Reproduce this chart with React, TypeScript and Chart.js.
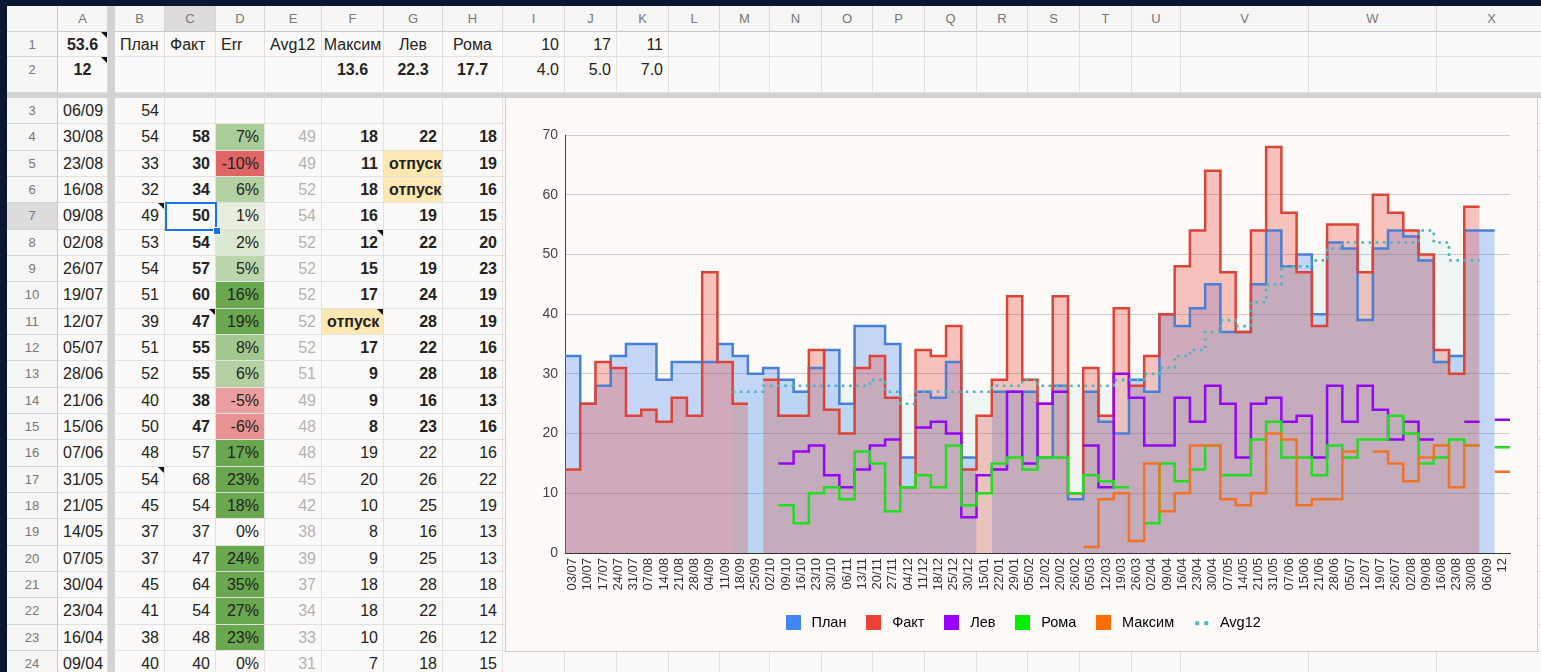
import React, { useEffect, useRef } from 'react';
import { Chart, registerables } from 'chart.js';

Chart.register(...registerables);

// ---------------- DATA ----------------
const CATEGORIES = ['03/07','10/07','17/07','24/07','31/07','07/08','14/08','21/08','28/08','04/09',
  '11/09','18/09','25/09','02/10','09/10','16/10','23/10','30/10','06/11','13/11',
  '20/11','27/11','04/12','11/12','18/12','25/12','30/12','15/01','22/01','29/01',
  '05/02','12/02','20/02','26/02','05/03','12/03','19/03','26/03','02/04','09/04',
  '16/04','23/04','30/04','07/05','14/05','21/05','31/05','07/06','15/06','21/06',
  '28/06','05/07','12/07','19/07','26/07','02/08','09/08','16/08','23/08','30/08',
  '06/09','12'];

const PLAN = [33,25,28,33,35,35,29,32,32,32, 35,33,30,31,29,27,31,34,25,38,
  38,35,16,27,26,32,16,null,27,27, 27,16,28,9,27,22,20,29,27,40,
  38,41,45,37,37,45,54,48,50,40, 52,51,39,51,54,53,49,32,33,54, 54,null];

const FACT = [14,25,32,31,23,24,22,26,23,47, 32,25,null,29,23,23,34,24,20,31,
  33,26,11,34,33,38,14,23,29,43, 29,25,43,10,31,23,41,28,33,40,
  48,54,64,47,37,54,68,57,47,38, 55,55,47,60,57,54,50,34,30,58, null,null];

const LEV = [null,null,null,null,null,null,null,null,null,null, null,null,null,null,15,17,18,13,11,14,
  18,19,null,21,22,20,6,13,14,27, 15,25,27,null,18,11,30,26,18,18,
  26,22,28,25,16,25,26,22,23,16, 28,22,28,24,19,22,19,null,null,22, null,22.3];

const ROMA = [null,null,null,null,null,null,null,null,null,null, null,null,null,null,8,5,10,11,9,17,
  15,7,11,13,11,18,8,10,15,16, 14,16,16,10,13,12,11,null,5,15,
  12,14,18,13,13,19,22,16,16,13, 18,16,19,19,23,20,15,16,19,18, null,17.7];

const MAKSIM = [null,null,null,null,null,null,null,null,null,null, null,null,null,null,null,null,null,null,null,null,
  null,null,null,null,null,null,null,null,null,null, null,null,null,null,1,9,10,2,15,7,
  10,18,18,9,8,10,20,19,8,9, 9,17,null,17,15,12,16,18,11,18, null,13.6];

const AVG12 = [null,null,null,null,null,null,null,null,null,null, null,27,27,28,28,28,28,28,28,28,
  29,27,25,27,27,27,27,27,28,28, 29,28,28,28,28,28,29,29,30,31,
  33,34,37,39,38,42,45,48,48,49, 51,52,52,52,52,52,54,52,49,49, null,null];

const Y_MIN = 0;
const Y_MAX = 70;
const Y_STEP = 10;

// spreadsheet-only values
const ERR = ['7%','-10%','6%','1%','2%','5%','16%','19%','8%','6%','-5%','-6%','17%','23%','18%','0%','24%','35%','27%','23%','0%'];
const ROW1 = ['53.6','План','Факт','Err','Avg12','Максим','Лев','Рома','10','17','11'];
const ROW2 = ['12','','','','','13.6','22.3','17.7','4.0','5.0','7.0'];

// ---------------- STYLE ----------------
const FONT = 'Arial, "Liberation Sans", sans-serif';
const NAVY = '#0b1631';
const SHEET_BG = '#fcfaf8';
const GRID = '#e3e1df';

const SERIES = [
  { label: 'План', data: PLAN, line: '#4a7fd6', legend: '#4285f4', fill: 'rgba(66,133,244,0.3)', order: 6 },
  { label: 'Факт', data: FACT, line: '#dc4437', legend: '#ea4335', fill: 'rgba(234,67,53,0.3)', order: 5 },
  { label: 'Лев', data: LEV, line: '#9406f4', legend: '#9900ff', fill: null, order: 4 },
  { label: 'Рома', data: ROMA, line: '#22dd22', legend: '#00ee00', fill: null, order: 3 },
  { label: 'Максим', data: MAKSIM, line: '#f07428', legend: '#ff6d01', fill: null, order: 2 },
  { label: 'Avg12', data: AVG12, line: '#4fb3bd', legend: '#46bdc6', fill: 'rgba(70,189,198,0.08)', order: 1, dotted: true },
];

function stepPoints(values: (number | null)[]) {
  const pts: { x: number; y: number | null }[] = [];
  values.forEach((v, i) => {
    if (v === null || v === undefined) {
      pts.push({ x: i, y: null });
    } else {
      pts.push({ x: i - 0.5, y: v }, { x: i + 0.5, y: v });
    }
  });
  return pts;
}

function legendIcon(color: string, dots: boolean) {
  const c = document.createElement('canvas');
  c.width = 15;
  c.height = 15;
  const g = c.getContext('2d')!;
  g.fillStyle = color;
  if (dots) {
    g.fillRect(1, 6, 4, 4);
    g.fillRect(10, 6, 4, 4);
  } else {
    g.fillRect(0, 0, 15, 15);
  }
  return c;
}

function StepChart() {
  const ref = useRef<HTMLCanvasElement>(null);
  useEffect(() => {
    const canvas = ref.current;
    if (!canvas) return;
    const icons = SERIES.map((s) => legendIcon(s.legend, !!s.dotted));
    const chart = new Chart(canvas, {
      type: 'line',
      data: {
        datasets: SERIES.map((s) => ({
          label: s.label,
          data: stepPoints(s.data),
          borderColor: s.line,
          backgroundColor: s.fill || 'transparent',
          fill: s.fill ? 'origin' : false,
          borderWidth: s.dotted ? 2.6 : 2.5,
          borderDash: s.dotted ? [2.6, 4.6] : [],
          pointRadius: 0,
          tension: 0,
          spanGaps: false,
          order: s.order,
        })),
      },
      options: {
        animation: false,
        responsive: false,
        events: [],
        layout: { padding: { left: 28, right: 28, top: 38, bottom: 12 } },
        plugins: {
          filler: { drawTime: 'beforeDatasetsDraw' },
          tooltip: { enabled: false },
          title: { display: false },
          legend: {
            position: 'bottom',
            labels: {
              usePointStyle: true,
              pointStyleWidth: 22,
              padding: 16.5,
              color: '#444',
              font: { size: 14.5, family: FONT },
              generateLabels: () =>
                SERIES.map((s, i) => ({
                  text: s.label,
                  pointStyle: icons[i],
                  fillStyle: s.legend,
                  strokeStyle: 'transparent',
                  lineWidth: 0,
                  hidden: false,
                  datasetIndex: i,
                })),
            },
          },
        },
        scales: {
          x: {
            type: 'linear',
            min: -0.5,
            max: CATEGORIES.length - 0.5,
            grid: { color: 'transparent', drawTicks: false },
            border: { display: true, color: '#333', width: 1 },
            afterBuildTicks: (scale: any) => {
              scale.ticks = CATEGORIES.map((_, i) => ({ value: i }));
            },
            afterFit: (scale: any) => {
              scale.height = 46;
            },
            ticks: {
              autoSkip: false,
              minRotation: 90,
              maxRotation: 90,
              padding: 5,
              color: '#333',
              font: { size: 13, family: FONT },
              callback: (v: any) => CATEGORIES[v] ?? '',
            },
          },
          y: {
            min: Y_MIN,
            max: Y_MAX,
            afterFit: (scale: any) => {
              scale.width = 32;
            },
            ticks: {
              stepSize: Y_STEP,
              padding: 7,
              color: '#444',
              font: { size: 14, family: FONT },
            },
            grid: {
              drawTicks: false,
              color: (c: any) => (c.tick && c.tick.value === 0 ? '#333' : '#cccccc'),
            },
            border: { display: true, color: '#444', width: 1 },
          },
        },
      } as any,
    });
    return () => chart.destroy();
  }, []);
  return (
    <canvas
      ref={ref}
      width={1033}
      height={555}
      style={{ position: 'absolute', left: -1, top: -1, width: 1033, height: 555 }}
    />
  );
}

// ---------------- SPREADSHEET ----------------
const COLS: [string, number, number][] = [
  ['A', 58, 50], ['B', 115, 50], ['C', 165, 51], ['D', 216, 49], ['E', 265, 57],
  ['F', 322, 62], ['G', 384, 59], ['H', 443, 60], ['I', 503, 62], ['J', 565, 52],
  ['K', 617, 52], ['L', 669, 51], ['M', 720, 50], ['N', 770, 52], ['O', 822, 51],
  ['P', 873, 52], ['Q', 925, 52], ['R', 977, 51], ['S', 1028, 52], ['T', 1080, 52],
  ['U', 1132, 49], ['V', 1181, 128], ['W', 1309, 128], ['X', 1437, 110],
];

const ROW_H = 26.33;
const FIRST_DATA_Y = 98;
function rowGeom(r: number): [number, number] {
  if (r === 0) return [6, 26];
  if (r === 1) return [32, 25];
  if (r === 2) return [57, 36];
  return [FIRST_DATA_Y + (r - 3) * ROW_H, ROW_H];
}

function errColor(s: string) {
  const p = parseFloat(s);
  if (!p) return undefined;
  const base = [252, 250, 248];
  const target = p > 0 ? [106, 168, 79] : [224, 102, 102];
  const t = Math.pow(Math.min(Math.abs(p) / (p > 0 ? 16 : 10), 1), 0.7);
  const c = base.map((v, i) => Math.round(v + (target[i] - v) * t));
  return `rgb(${c[0]},${c[1]},${c[2]})`;
}

const NOTES = new Set(['A1', 'A2', 'B7', 'C11', 'F8', 'F11', 'B17']);

type CellOpts = { align?: 'left' | 'right' | 'center'; bold?: boolean; color?: string; bg?: string };

function Sheet() {
  const cells: React.ReactNode[] = [];
  const totalRows = 25; // header + rows 1..24
  for (let r = 0; r < totalRows; r++) {
    const [y, h] = rowGeom(r);
    const isHeader = r === 0;
    // row header cell
    cells.push(
      <div key={`rh${r}`} style={{
        position: 'absolute', left: 7, top: y, width: 51, height: h,
        background: r === 7 ? '#dcdcdc' : '#f6f6f5', borderRight: '1px solid #c8c8c8',
        borderBottom: '1px solid #d6d6d6', boxSizing: 'border-box', color: '#777',
        fontSize: 13, lineHeight: (r === 2 ? 26 : h) + 'px', textAlign: 'center',
      }}>{isHeader ? '' : String(r)}</div>
    );
    COLS.forEach(([name, x, w], ci) => {
      const key = `${name}${r}`;
      if (isHeader) {
        cells.push(
          <div key={key} style={{
            position: 'absolute', left: x, top: y, width: w, height: h,
            background: name === 'C' ? '#dcdcdc' : '#f6f6f5', borderRight: '1px solid #d6d6d6',
            borderBottom: '1px solid #c8c8c8', boxSizing: 'border-box', color: '#777',
            fontSize: 13, lineHeight: h + 'px', textAlign: 'center',
          }}>{name}</div>
        );
        return;
      }
      let text = '';
      let o: CellOpts = {};
      if (r === 1 || r === 2) {
        const src = r === 1 ? ROW1 : ROW2;
        text = src[ci] ?? '';
        if (ci === 0) o = { align: 'center', bold: true };
        else if (ci <= 4) o = { align: 'left' };
        else if (ci <= 7) o = { align: 'center', bold: r === 2 };
        else o = { align: 'right' };
      } else {
        const b = 63 - r;
        const recent = r <= 15;
        const vac = (v: number | null) => (v === null ? (r === 3 ? '' : 'отпуск') : String(v));
        if (ci === 0) { text = CATEGORIES[b]; o = { align: 'left' }; }
        else if (ci === 1) { text = PLAN[b] === null ? '' : String(PLAN[b]); o = { align: 'right' }; }
        else if (r > 3 && ci === 2) { text = FACT[b] === null ? '' : String(FACT[b]); o = { align: 'right', bold: recent }; }
        else if (r > 3 && ci === 3) { text = ERR[r - 4]; o = { align: 'right', bg: errColor(ERR[r - 4]) }; }
        else if (r > 3 && ci === 4) { text = AVG12[b] === null ? '' : String(AVG12[b]); o = { align: 'right', color: '#b3b3b3' }; }
        else if (r > 3 && ci >= 5 && ci <= 7) {
          const v = ci === 5 ? MAKSIM[b] : ci === 6 ? LEV[b] : ROMA[b];
          text = vac(v);
          o = text === 'отпуск'
            ? { align: 'left', bold: true, bg: '#fce8b2' }
            : { align: 'right', bold: recent };
        }
      }
      cells.push(
        <div key={key} style={{
          position: 'absolute', left: x, top: y, width: w, height: h,
          borderRight: `1px solid ${GRID}`, borderBottom: `1px solid ${GRID}`, boxSizing: 'border-box',
          background: o.bg, color: o.color || '#222', fontWeight: o.bold ? 700 : 400,
          fontSize: 16, lineHeight: (r === 2 ? 26 : h) + 'px', textAlign: o.align || 'right',
          padding: o.align === 'center' ? 0 : '0 5px', whiteSpace: 'nowrap',
        }}>
          {text}
          {NOTES.has(`${name}${r}`) && (
            <div style={{ position: 'absolute', right: 0, top: 0, width: 0, height: 0,
              borderTop: '6px solid #111', borderLeft: '6px solid transparent' }} />
          )}
        </div>
      );
    });
  }
  return (
    <div style={{ position: 'absolute', left: 7, top: 6, width: 1534, height: 666, background: SHEET_BG, overflow: 'hidden' }}>
      <div style={{ position: 'absolute', left: -7, top: -6, width: 1541, height: 672 }}>
        {cells}
        {/* frozen dividers */}
        <div style={{ position: 'absolute', left: 7, top: 93, width: 1534, height: 5, background: '#d3d3d3' }} />
        <div style={{ position: 'absolute', left: 108, top: 6, width: 7, height: 666, background: '#d3d3d3' }} />
        {/* selected cell C7 */}
        <div style={{ position: 'absolute', left: 165, top: rowGeom(7)[0] - 1, width: 52, height: ROW_H + 2,
          border: '2px solid #1a73e8', boxSizing: 'border-box' }} />
        <div style={{ position: 'absolute', left: 213, top: rowGeom(7)[0] + ROW_H - 3, width: 6, height: 6,
          background: '#1a73e8', border: '1px solid #fff' }} />
      </div>
    </div>
  );
}

export default function App() {
  useEffect(() => {
    document.body.style.margin = '0';
    document.body.style.background = NAVY;
  }, []);
  return (
    <div style={{ position: 'relative', width: 1541, height: 672, overflow: 'hidden', background: NAVY, fontFamily: FONT }}>
      <Sheet />
      <div style={{ position: 'absolute', left: 505, top: 97, width: 1033, height: 555,
        background: '#fdfaf7', border: '1px solid #cfcfcf', boxSizing: 'border-box' }}>
        <StepChart />
      </div>
    </div>
  );
}
